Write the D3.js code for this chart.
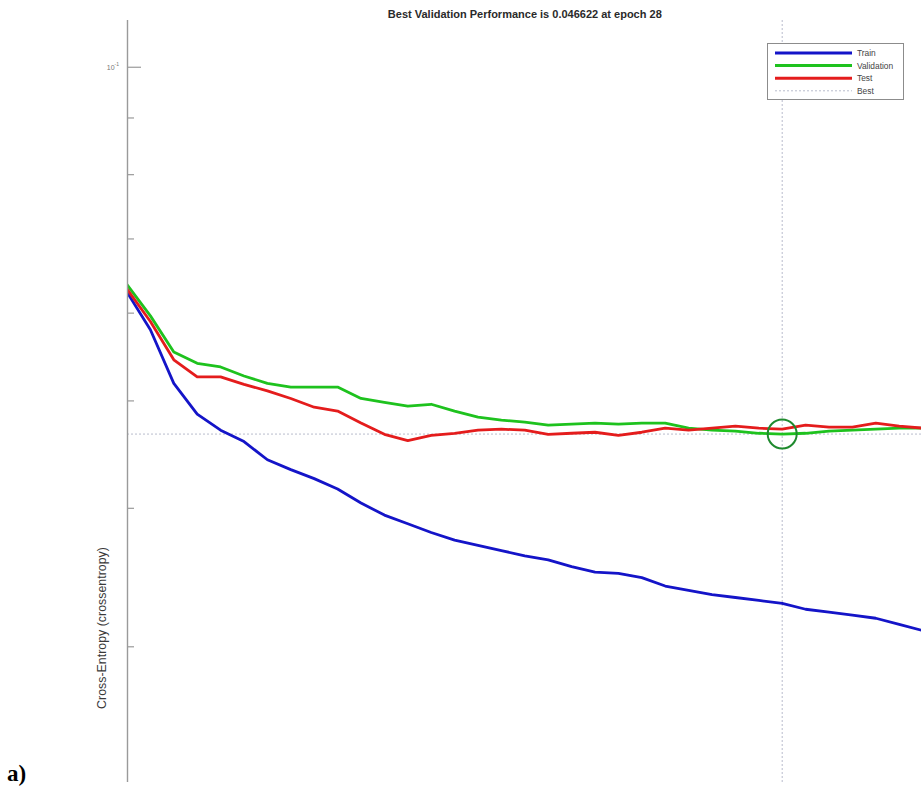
<!DOCTYPE html>
<html>
<head>
<meta charset="utf-8">
<script src="https://cdn.jsdelivr.net/npm/d3@7"></script>
<style>
  html, body { margin: 0; padding: 0; background: #fff; }
  svg { display: block; }
</style>
</head>
<body>
<svg id="perfChart" width="921" height="787"></svg>
<script>
// epochs 0..34 (training stopped 6 checks after best epoch)
const epochs = [0,1,2,3,4,5,6,7,8,9,10,11,12,13,14,15,16,17,18,19,20,21,22,23,24,25,26,27,28,29,30,31,32,33,34];

const trainPerf = [0.0626,0.0579,0.0518,0.0486,0.0470,0.0459,0.0442,0.0433,0.0425,0.0416,
  0.0404,0.0394,0.0387,0.0380,0.0374,0.0370,0.0366,0.0362,0.0359,0.0354,
  0.0350,0.0349,0.0346,0.0340,0.0337,0.0334,0.0332,0.0330,0.0328,0.0324,
  0.0322,0.0320,0.0318,0.0314,0.0310];

const validPerf = [0.0636,0.0596,0.0553,0.0540,0.0536,0.0526,0.0518,0.0514,0.0514,0.0514,
  0.0502,0.0498,0.0494,0.0496,0.0489,0.0483,0.0480,0.0478,0.0475,0.0476,
  0.0477,0.0476,0.0477,0.0477,0.0472,0.0470,0.0469,0.0467,0.046622,0.0467,
  0.0469,0.0470,0.0471,0.0472,0.0472];

const testPerf = [0.0630,0.0589,0.0544,0.0525,0.0525,0.0517,0.0510,0.0502,0.0493,0.0489,
  0.0477,0.0466,0.0460,0.0465,0.0467,0.0470,0.0471,0.0470,0.0466,0.0467,
  0.0468,0.0465,0.0468,0.0472,0.0470,0.0472,0.0474,0.0472,0.0471,0.0475,
  0.0473,0.0473,0.0477,0.0474,0.0472];

const bestEpoch = 28;
const bestValue = 0.046622;

const seriesNames = ['Train', 'Validation', 'Test', 'Best'];
const seriesColors = ['#1414c8', '#1ec21e', '#e41c1c', '#b8bccc'];

const majorTicks = [0.1];
const minorTicks = [0.09, 0.08, 0.07, 0.06, 0.05, 0.04, 0.03];
const yDomain = [0.02263, 0.1102];
const xDomain = [0, 34];

const titleText = 'Best Validation Performance is ' + bestValue + ' at epoch ' + bestEpoch;
const yLabelText = 'Cross-Entropy  (crossentropy)';

// layout
const plot = { left: 127, top: 20, right: 922.6, bottom: 782 };
const fontSans = 'Liberation Sans, Arial, sans-serif';

const svg = d3.select('#perfChart');

const xScale = d3.scaleLinear().domain(xDomain).range([plot.left, plot.right]);
const yScale = d3.scaleLog().domain(yDomain).range([plot.bottom, plot.top]);

svg.append('defs').append('clipPath').attr('id', 'plotClip')
  .append('rect')
  .attr('x', plot.left).attr('y', plot.top)
  .attr('width', plot.right - plot.left).attr('height', plot.bottom - plot.top);

// best markers (dotted cross-hair)
const bestG = svg.append('g').attr('clip-path', 'url(#plotClip)');
bestG.append('line')
  .attr('x1', xScale(bestEpoch)).attr('x2', xScale(bestEpoch))
  .attr('y1', plot.top).attr('y2', plot.bottom)
  .attr('stroke', seriesColors[3]).attr('stroke-width', 1).attr('stroke-dasharray', '2,2');
bestG.append('line')
  .attr('x1', plot.left).attr('x2', plot.right)
  .attr('y1', yScale(bestValue)).attr('y2', yScale(bestValue))
  .attr('stroke', seriesColors[3]).attr('stroke-width', 1).attr('stroke-dasharray', '2,2');

// curves
const line = d3.line()
  .x((d) => xScale(d[0]))
  .y((d) => yScale(d[1]));

const curves = [trainPerf, validPerf, testPerf];
const linesG = svg.append('g').attr('clip-path', 'url(#plotClip)');
curves.forEach((vals, i) => {
  linesG.append('path')
    .datum(epochs.map((e, j) => [e, vals[j]]))
    .attr('d', line)
    .attr('fill', 'none')
    .attr('stroke', seriesColors[i])
    .attr('stroke-width', 2.8)
    .attr('stroke-linejoin', 'round')
    .attr('stroke-linecap', 'round');
});

// best circle
svg.append('circle')
  .attr('cx', xScale(bestEpoch))
  .attr('cy', yScale(bestValue))
  .attr('r', 14.5)
  .attr('fill', 'none')
  .attr('stroke', '#1f8a2e')
  .attr('stroke-width', 2);

// y axis (ticks point inward, matlab style)
const yAxisMinor = d3.axisLeft(yScale).tickValues(minorTicks).tickSize(-7).tickFormat('');
const yAxisMajor = d3.axisLeft(yScale).tickValues(majorTicks).tickSize(-14).tickFormat('');

const gMinor = svg.append('g').attr('transform', `translate(${plot.left},0)`).call(yAxisMinor);
const gMajor = svg.append('g').attr('transform', `translate(${plot.left},0)`).call(yAxisMajor);
[gMinor, gMajor].forEach((g) => {
  g.select('.domain').attr('stroke', '#9a9a9a').attr('stroke-width', 1.4);
  g.selectAll('.tick line').attr('stroke', '#9a9a9a').attr('stroke-width', 1.2);
});
gMinor.select('.domain').remove();
gMajor.select('.domain').attr('d', `M0.5,${plot.top}V${plot.bottom}`);

majorTicks.forEach((t) => {
  const lbl = svg.append('text')
    .attr('x', plot.left - 8)
    .attr('y', yScale(t) + 3)
    .attr('text-anchor', 'end')
    .attr('font-family', fontSans)
    .attr('font-size', 7)
    .attr('fill', '#777');
  lbl.append('tspan').text('10');
  lbl.append('tspan').attr('dy', -4).attr('font-size', 5).text('-1');
});

// title
svg.append('text')
  .attr('x', (plot.left + plot.right) / 2)
  .attr('y', 18)
  .attr('text-anchor', 'middle')
  .attr('font-family', fontSans)
  .attr('font-weight', 'bold')
  .attr('font-size', 11)
  .attr('fill', '#2a2a2a')
  .text(titleText);

// y label
svg.append('text')
  .attr('transform', 'translate(106,628) rotate(-90)')
  .attr('text-anchor', 'middle')
  .attr('font-family', fontSans)
  .attr('font-size', 12.4)
  .attr('fill', '#3a3a3a')
  .text(yLabelText);

// legend
const legend = svg.append('g').attr('transform', 'translate(767,43)');
legend.append('rect')
  .attr('x', 0.5).attr('y', 0.5).attr('width', 136).attr('height', 56)
  .attr('fill', '#fff').attr('stroke', '#8c8c8c').attr('stroke-width', 1);
seriesNames.forEach((name, i) => {
  const yy = 10 + i * 12.6;
  legend.append('line')
    .attr('x1', 8).attr('x2', 85).attr('y1', yy).attr('y2', yy)
    .attr('stroke', seriesColors[i])
    .attr('stroke-width', i === 3 ? 1 : 3)
    .attr('stroke-dasharray', i === 3 ? '2,2' : null);
  legend.append('text')
    .attr('x', 90).attr('y', yy + 3)
    .attr('font-family', fontSans)
    .attr('font-size', 8.4)
    .attr('fill', '#444')
    .text(name);
});

// panel label
svg.append('text')
  .attr('x', 7)
  .attr('y', 781)
  .attr('font-family', 'Liberation Serif, Times New Roman, serif')
  .attr('font-weight', 'bold')
  .attr('font-size', 23)
  .attr('fill', '#000')
  .text('a)');
</script>
</body>
</html>
